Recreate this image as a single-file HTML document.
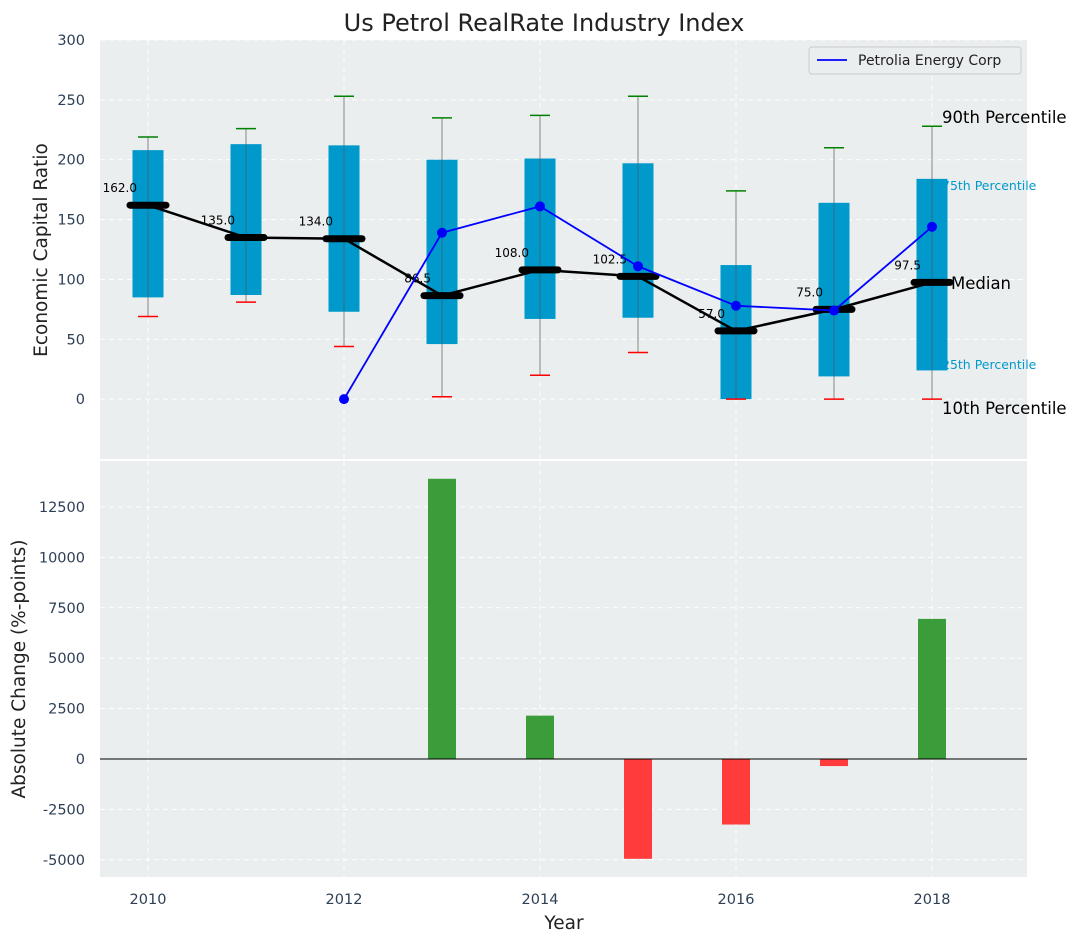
<!DOCTYPE html>
<html><head><meta charset="utf-8"><style>
body{margin:0;background:#fff;font-family:"Liberation Sans","DejaVu Sans",sans-serif}
svg text{font-family:"DejaVu Sans","Liberation Sans",sans-serif}
</style></head><body>
<svg id="c" width="1077" height="942" xmlns="http://www.w3.org/2000/svg"></svg>
<script>
const years=[2010,2011,2012,2013,2014,2015,2016,2017,2018];
const p90=[219,226,253,235,237,253,174,210,228];
const q3=[208,213,212,200,201,197,112,164,184];
const med=[162,135,134,86.5,108,102.5,57,75,97.5];
const q1=[85,87,73,46,67,68,0,19,24];
const p10=[69,81,44,2,20,39,0,0,0];
const compYears=[2012,2013,2014,2015,2016,2017,2018];
const compVals=[0,139,161,111,78,74,144];
const changeYears=[2013,2014,2015,2016,2017,2018];
const changeVals=[13900,2150,-4950,-3250,-350,6950];
const topTicks=[0,50,100,150,200,250,300];
const botTicks=[-5000,-2500,0,2500,5000,7500,10000,12500];
const xTicks=[2010,2012,2014,2016,2018];

const NS="http://www.w3.org/2000/svg";
const svg=document.getElementById('c');
const L=100,R=1027;
const X=v=>148+(v-2010)*98;
const T0=40,T1=459,Y=v=>T1-(v+50)/350*(T1-T0);
const B0=461,B1=877,YB=v=>B1-(v+5853)/(14782+5853)*(B1-B0);
function el(tag,a,name,txt){const e=document.createElementNS(NS,tag);for(const k in a)e.setAttribute(k,a[k]);


if(txt!==undefined)e.textContent=txt;svg.appendChild(e);return e;}
el('rect',{x:L,y:T0,width:R-L,height:T1-T0,fill:'#eaeeee'},'top-plot-area');
el('rect',{x:L,y:B0,width:R-L,height:B1-B0,fill:'#eaeeee'},'bottom-plot-area');
topTicks.forEach(t=>{el('line',{x1:L,x2:R,y1:Y(t),y2:Y(t),stroke:'#fff','stroke-dasharray':'5,4'},'top-grid-line');
el('text',{x:L-15,y:Y(t)+5,'text-anchor':'end','font-size':14.5,fill:'#2d3f55'},'top-y-tick-label',t);});
botTicks.forEach(t=>{el('line',{x1:L,x2:R,y1:YB(t),y2:YB(t),stroke:'#fff','stroke-dasharray':'5,4'},'bottom-grid-line');
el('text',{x:L-15,y:YB(t)+5,'text-anchor':'end','font-size':14.5,fill:'#2d3f55'},'bottom-y-tick-label',t);});
xTicks.forEach(t=>{el('line',{x1:X(t),x2:X(t),y1:T0,y2:T1,stroke:'#fff','stroke-dasharray':'5,4'},'top-x-grid-line');
el('line',{x1:X(t),x2:X(t),y1:B0,y2:B1,stroke:'#fff','stroke-dasharray':'5,4'},'bottom-x-grid-line');
el('text',{x:X(t),y:904,'text-anchor':'middle','font-size':14.5,fill:'#2d3f55'},'x-tick-label',t);});
el('text',{x:942,y:123,'font-size':16.5,fill:'#000'},'label-90th','90th Percentile');
el('text',{x:942,y:190,'font-size':12.5,fill:'#0099cc'},'label-75th','75th Percentile');
el('text',{x:942,y:369,'font-size':12.5,fill:'#0099cc'},'label-25th','25th Percentile');
el('text',{x:942,y:414,'font-size':16.5,fill:'#000'},'label-10th','10th Percentile');
years.forEach((yr,i)=>{const x=X(yr);
el('line',{x1:x,x2:x,y1:Y(p10[i]),y2:Y(p90[i]),stroke:'#888','stroke-width':1},'whisker');
el('rect',{x:x-15.5,y:Y(q3[i]),width:31,height:Y(q1[i])-Y(q3[i]),fill:'#0099cc'},'box-'+yr);
el('line',{x1:x,x2:x,y1:Y(q1[i]),y2:Y(q3[i]),stroke:'#555','stroke-width':1,opacity:0.6},'box-center-line');
el('line',{x1:x-10,x2:x+10,y1:Y(p90[i]),y2:Y(p90[i]),stroke:'green','stroke-width':1.5},'cap-90th');
el('line',{x1:x-10,x2:x+10,y1:Y(p10[i]),y2:Y(p10[i]),stroke:'red','stroke-width':1.5},'cap-10th');});
el('polyline',{points:years.map((y,i)=>X(y)+','+Y(med[i])).join(' '),fill:'none',stroke:'#000','stroke-width':2.5},'median-line');
years.forEach((yr,i)=>{const x=X(yr);
el('line',{x1:x-18,x2:x+18,y1:Y(med[i]),y2:Y(med[i]),stroke:'#000','stroke-width':7,'stroke-linecap':'round'},'median-marker');
el('text',{x:x-11,y:Y(med[i])-13,'text-anchor':'end','font-size':12,fill:'#000'},'median-value-label',med[i].toFixed(1));});
el('text',{x:951,y:289,'font-size':16.5,fill:'#000'},'label-median','Median');
el('polyline',{points:compYears.map((y,i)=>X(y)+','+Y(compVals[i])).join(' '),fill:'none',stroke:'blue','stroke-width':1.8},'company-line');
compYears.forEach((y,i)=>el('circle',{cx:X(y),cy:Y(compVals[i]),r:5,fill:'blue'},'company-point'));
changeYears.forEach((y,i)=>{const v=changeVals[i];
el('rect',{x:X(y)-14,y:Math.min(YB(v),YB(0)),width:28,height:Math.abs(YB(v)-YB(0)),fill:v>=0?'#3a9d3a':'#ff3b3b'},'change-bar-'+y);});
el('line',{x1:L,x2:R,y1:YB(0),y2:YB(0),stroke:'#000','stroke-width':1},'zero-line');
el('rect',{x:809,y:47,width:212,height:27,rx:3,fill:'#eaeeee',stroke:'#ccc'},'legend');
el('line',{x1:817,x2:847,y1:60,y2:60,stroke:'blue','stroke-width':1.8},'legend-line');
el('text',{x:858,y:65,'font-size':14,fill:'#222'},'legend-label','Petrolia Energy Corp');
el('text',{x:544,y:31,'text-anchor':'middle','font-size':24,fill:'#222'},'chart-title','Us Petrol RealRate Industry Index');
el('text',{x:47,y:250,'text-anchor':'middle','font-size':18.5,fill:'#222',transform:'rotate(-90 47 250)'},'top-y-axis-title','Economic Capital Ratio');
el('text',{x:25,y:669,'text-anchor':'middle','font-size':18.5,fill:'#222',transform:'rotate(-90 25 669)'},'bottom-y-axis-title','Absolute Change (%-points)');
el('text',{x:564,y:929,'text-anchor':'middle','font-size':18.5,fill:'#222'},'x-axis-title','Year');
</script></body></html>
